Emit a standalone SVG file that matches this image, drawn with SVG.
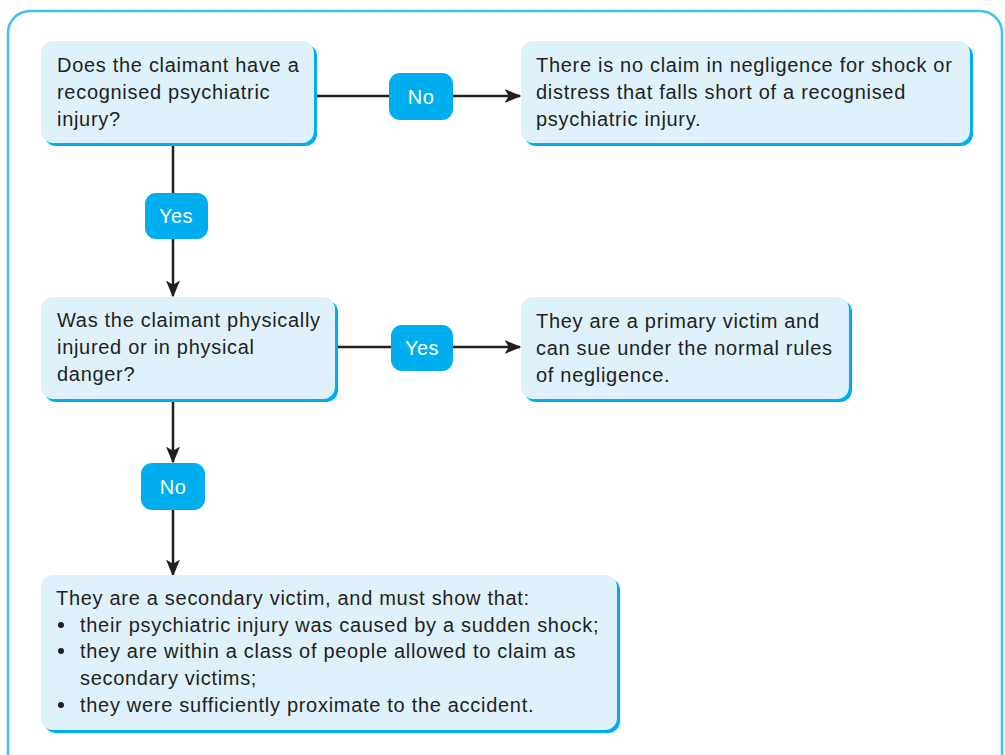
<svg xmlns="http://www.w3.org/2000/svg" width="1005" height="755" viewBox="0 0 1005 755">
<style>
.frame{fill:#ffffff;stroke:#3fc0ee;stroke-width:2.5}
.shadow{fill:#00aeef}
.box{fill:#dff1fa}
.pill{fill:#00aeef}
.t{font-family:"Liberation Sans",Arial,sans-serif;font-size:20px;letter-spacing:0.7px;fill:#231f20}
.pt{font-family:"Liberation Sans",Arial,sans-serif;font-size:20px;letter-spacing:0.5px;fill:#ffffff;text-anchor:middle}
.c{stroke:#231f20;stroke-width:2.5;fill:none}
</style>
<defs>
<marker id="arr" viewBox="0 0 12 10" refX="11" refY="5" markerWidth="17" markerHeight="14" markerUnits="userSpaceOnUse" orient="auto">
<path d="M0,0 L12,5 L0,10 L3,5 z" fill="#231f20"/>
</marker>
</defs>
<rect class="frame" x="8" y="11" width="994" height="770" rx="22"/>
<g id="connectors">
<line class="c" x1="314" y1="96" x2="520" y2="96" marker-end="url(#arr)"/>
<line class="c" x1="173" y1="143" x2="173" y2="296" marker-end="url(#arr)"/>
<line class="c" x1="335" y1="347" x2="520" y2="347" marker-end="url(#arr)"/>
<line class="c" x1="173" y1="399" x2="173" y2="462" marker-end="url(#arr)"/>
<line class="c" x1="173" y1="510" x2="173" y2="575" marker-end="url(#arr)"/>
</g>
<g id="q1">
<rect class="shadow" x="44" y="44" width="273" height="102" rx="12"/>
<rect class="box" x="41" y="41" width="273" height="102" rx="12"/>
<text class="t" x="57" y="72">Does the claimant have a</text>
<text class="t" x="57" y="99">recognised psychiatric</text>
<text class="t" x="57" y="126">injury?</text>
</g>
<g id="no1">
<rect class="pill" x="389" y="73" width="64" height="47" rx="11"/>
<text class="pt" x="421" y="104">No</text>
</g>
<g id="r1">
<rect class="shadow" x="524" y="44" width="449" height="102" rx="12"/>
<rect class="box" x="521" y="41" width="449" height="102" rx="12"/>
<text class="t" x="536" y="72">There is no claim in negligence for shock or</text>
<text class="t" x="536" y="99">distress that falls short of a recognised</text>
<text class="t" x="536" y="126">psychiatric injury.</text>
</g>
<g id="yes1">
<rect class="pill" x="145" y="193" width="63" height="46" rx="11"/>
<text class="pt" x="176" y="223">Yes</text>
</g>
<g id="q2">
<rect class="shadow" x="44" y="300" width="294" height="102" rx="12"/>
<rect class="box" x="41" y="297" width="294" height="102" rx="12"/>
<text class="t" x="57" y="327">Was the claimant physically</text>
<text class="t" x="57" y="354">injured or in physical</text>
<text class="t" x="57" y="381">danger?</text>
</g>
<g id="yes2">
<rect class="pill" x="391" y="325" width="62" height="46" rx="11"/>
<text class="pt" x="422" y="355">Yes</text>
</g>
<g id="r2">
<rect class="shadow" x="524" y="300" width="328" height="102" rx="12"/>
<rect class="box" x="521" y="297" width="328" height="102" rx="12"/>
<text class="t" x="536" y="328">They are a primary victim and</text>
<text class="t" x="536" y="355">can sue under the normal rules</text>
<text class="t" x="536" y="382">of negligence.</text>
</g>
<g id="no2">
<rect class="pill" x="141" y="463" width="64" height="47" rx="11"/>
<text class="pt" x="173" y="494">No</text>
</g>
<g id="r3">
<rect class="shadow" x="44" y="578" width="576" height="155" rx="12"/>
<rect class="box" x="41" y="575" width="576" height="155" rx="12"/>
<text class="t" x="56" y="605">They are a secondary victim, and must show that:</text>
<circle cx="61" cy="625" r="3" fill="#231f20"/>
<text class="t" x="80" y="632">their psychiatric injury was caused by a sudden shock;</text>
<circle cx="61" cy="651" r="3" fill="#231f20"/>
<text class="t" x="80" y="658">they are within a class of people allowed to claim as</text>
<text class="t" x="80" y="685">secondary victims;</text>
<circle cx="61" cy="705" r="3" fill="#231f20"/>
<text class="t" x="80" y="712">they were sufficiently proximate to the accident.</text>
</g>
</svg>
